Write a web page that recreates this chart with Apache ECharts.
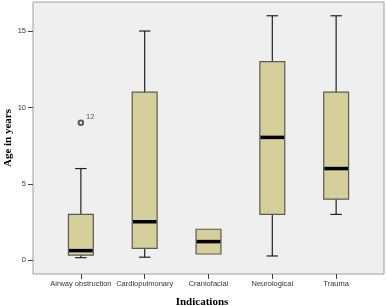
<!DOCTYPE html>
<html>
<head>
<meta charset="utf-8">
<script src="https://cdn.jsdelivr.net/npm/echarts@6/dist/echarts.min.js"></script>
<style>html,body{margin:0;padding:0;background:#fff;}#c{width:387px;height:306px;}</style>
</head>
<body>
<div id="c"></div>
<script>
var categories = ['Airway obstruction', 'Cardiopulmonary', 'Craniofacial', 'Neurological', 'Trauma'];
var whiskerLow = [0.17, 0.2, 0.41, 0.28, 3.0];
var q1 = [0.33, 0.78, 0.41, 3.0, 4.0];
var median = [0.63, 2.52, 1.22, 8.04, 6.0];
var q3 = [3.0, 11.0, 2.03, 13.0, 11.0];
var whiskerHigh = [6.0, 15.0, 2.03, 16.0, 16.0];
var outliers = [[0, 9.0, '12']];
var yTicks = [0, 5, 10, 15];

var boxData = categories.map(function (c, i) {
  return [i, whiskerLow[i], q1[i], median[i], q3[i], whiskerHigh[i]];
});

var chart = echarts.init(document.getElementById('c'), null, {renderer: 'canvas'});
var labelFont = {fontFamily: 'Liberation Sans', fontSize: 7.5, color: '#333'};

chart.setOption({
  animation: false,
  backgroundColor: '#fff',
  grid: {left: 33, right: 3, top: 2, bottom: 32, outerBoundsMode: 'none', containLabel: false,
    show: true, borderColor: '#a0a0a0', borderWidth: 1, backgroundColor: '#efefef'},
  xAxis: {
    type: 'value', min: -0.75, max: 4.75,
    name: 'Indications', nameLocation: 'middle', nameGap: 23, nameMoveOverlap: false,
    nameTextStyle: {fontFamily: 'Liberation Serif', fontWeight: 'bold', fontSize: 11, color: '#000', padding: [0, 13, 0, 0]},
    axisLine: {show: false, onZero: false},
    splitLine: {show: false},
    axisTick: {show: true, customValues: categories.map(function (c, i) { return i; }), length: 5, lineStyle: {color: '#444'}},
    axisLabel: {customValues: categories.map(function (c, i) { return i; }), margin: 6,
      formatter: function (v) { return categories[v]; }, fontFamily: labelFont.fontFamily, fontSize: labelFont.fontSize, color: labelFont.color}
  },
  yAxis: {
    type: 'value', min: -0.9, max: 16.9,
    name: 'Age in years', nameLocation: 'middle', nameGap: 19, nameMoveOverlap: false,
    nameTextStyle: {fontFamily: 'Liberation Serif', fontWeight: 'bold', fontSize: 11, color: '#000'},
    axisLine: {show: false, onZero: false},
    splitLine: {show: false},
    axisTick: {show: true, customValues: yTicks, length: 5, lineStyle: {color: '#444'}},
    axisLabel: {customValues: yTicks, margin: 7, fontFamily: labelFont.fontFamily, fontSize: labelFont.fontSize, color: labelFont.color}
  },
  series: [{
    type: 'custom',
    data: boxData,
    encode: {x: 0, y: [1, 2, 3, 4, 5]},
    renderItem: function (params, api) {
      var x = api.value(0);
      var pLow = api.coord([x, api.value(1)]);
      var pQ1 = api.coord([x, api.value(2)]);
      var pMed = api.coord([x, api.value(3)]);
      var pQ3 = api.coord([x, api.value(4)]);
      var pHigh = api.coord([x, api.value(5)]);
      var bw = api.size([0.39, 0])[0];
      var cw = bw * 0.46;
      var cx = pQ1[0];
      var wStyle = {stroke: '#222', lineWidth: 1.2};
      var children = [];
      if (Math.abs(pHigh[1] - pQ3[1]) > 0.5) {
        children.push({type: 'line', shape: {x1: cx, y1: pHigh[1], x2: cx, y2: pQ3[1]}, style: wStyle});
        children.push({type: 'line', shape: {x1: cx - cw / 2, y1: pHigh[1], x2: cx + cw / 2, y2: pHigh[1]}, style: wStyle});
      }
      if (Math.abs(pLow[1] - pQ1[1]) > 0.5) {
        children.push({type: 'line', shape: {x1: cx, y1: pQ1[1], x2: cx, y2: pLow[1]}, style: wStyle});
        children.push({type: 'line', shape: {x1: cx - cw / 2, y1: pLow[1], x2: cx + cw / 2, y2: pLow[1]}, style: wStyle});
      }
      children.push({type: 'rect', shape: {x: cx - bw / 2, y: pQ3[1], width: bw, height: pQ1[1] - pQ3[1]},
        style: {fill: '#d5d09b', stroke: '#5a5a50', lineWidth: 1.2}});
      children.push({type: 'line', shape: {x1: cx - bw / 2 + 0.6, y1: pMed[1], x2: cx + bw / 2 - 0.6, y2: pMed[1]},
        style: {stroke: '#000', lineWidth: 3.5}});
      return {type: 'group', children: children};
    }
  }, {
    type: 'scatter',
    data: outliers.map(function (o) { return {value: [o[0], o[1]], name: o[2]}; }),
    symbol: 'emptyCircle', symbolSize: 4.5,
    itemStyle: {color: '#333', borderColor: '#333', borderWidth: 1},
    label: {show: true, position: 'right', distance: 2, offset: [0, -6],
      formatter: function (p) { return p.name; }, fontFamily: 'Liberation Sans', fontSize: 7.5, color: '#333'}
  }]
});
</script>
</body>
</html>
